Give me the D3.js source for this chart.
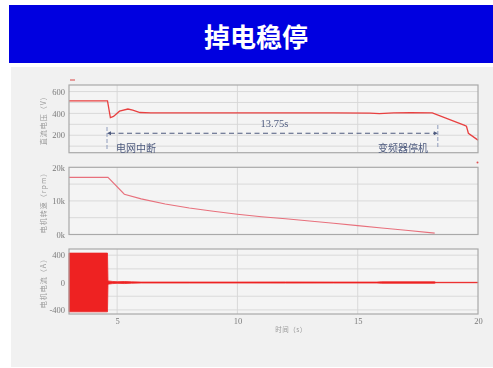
<!DOCTYPE html>
<html>
<head>
<meta charset="utf-8">
<script src="https://cdn.jsdelivr.net/npm/d3@7/dist/d3.min.js"></script>
<style>
  html, body { margin: 0; padding: 0; background: #ffffff; }
  svg { display: block; }
</style>
</head>
<body>
<svg id="chart" width="493" height="368"></svg>
<script>
// ---- data ----
const titleText = "掉电稳停";
const xTicks = [5, 10, 15, 20];

// DC bus voltage (V) vs time (s)
const voltTime  = [3, 4.6, 4.72, 4.85, 5.1, 5.45, 5.65, 5.95, 6.4, 8, 10, 12, 14, 15.5, 15.9, 16.5, 17.2, 18.1, 19.42, 19.52, 19.6, 20];
const voltValue = [515, 515, 362, 372, 420, 440, 430, 408, 405, 405, 404, 405, 404, 403, 398, 404, 406, 405, 292, 282, 218, 155];
const voltTicks = [600, 400, 200];

// motor speed (rpm) vs time (s)
const speedTime  = [3, 4.62, 5.3, 6, 7, 8, 9, 10, 11, 12, 13, 14, 15, 16, 17, 18.2];
const speedValue = [17000, 17000, 12000, 10600, 9100, 7900, 6900, 6050, 5300, 4700, 4000, 3350, 2650, 1950, 1250, 400];
const speedTicks = [20000, 10000, 0];
const speedTickLabels = ["20k", "10k", "0k"];

// motor current (A): envelope of the AC waveform, upper and lower bounds
const curTime  = [3, 4.6, 4.62, 4.8, 5.0, 5.3, 5.6, 6, 8, 10, 12, 14, 15.8, 16, 18.2, 18.25, 20];
const curUpper = [430, 430, 24, 16, 12, 15, 10, 7, 7, 7, 8, 7, 7, 11, 11, 3, 3];
const curLower = [-428, -428, -24, -16, -12, -15, -10, -7, -7, -7, -8, -7, -7, -11, -11, -3, -3];
const curTicks = [400, 0, -400];

// annotation: grid loss to drive stop
const gridLossTime = 4.58;
const stopDuration = 13.75;

// ---- drawing ----
const svg = d3.select("#chart");

// title banner
svg.append("rect").attr("x", 9).attr("y", 5).attr("width", 484).attr("height", 58).attr("fill", "#0000e0");
svg.append("text").attr("x", 256).attr("y", 35).attr("text-anchor", "middle").attr("dominant-baseline", "central")
  .attr("fill", "#ffffff").attr("font-family", "'Noto Sans CJK SC', sans-serif").attr("font-weight", "bold")
  .attr("font-size", 26).text(titleText);

// chart panel
const defs = svg.append("defs");
defs.append("filter").attr("id", "soft").append("feGaussianBlur").attr("stdDeviation", 0.35);
svg.append("rect").attr("x", 11).attr("y", 67).attr("width", 482).attr("height", 300).attr("fill", "#f1f1f1");

const g = svg.append("g").attr("filter", "url(#soft)");

const x = d3.scaleLinear().domain([3, 20]).range([69, 478]);
const y1 = d3.scaleLinear().domain([40, 660]).range([152.7, 85]);
const y2 = d3.scaleLinear().domain([0, 20000]).range([234.5, 167.3]);
const y3 = d3.scaleLinear().domain([-460, 490]).range([314, 249]);

const gridColor = "#d6d6d6";
const frameColor = "#a9a9a9";
const tickColor = "#7a7a7a";
const numFont = "'Liberation Serif', serif";
const cjkFont = "'Noto Sans CJK SC', sans-serif";

function panel(y, gridVals, tickVals, tickFmt, label) {
  const [y0, yTop] = y.range();
  const p = g.append("g");
  p.append("rect").attr("x", x(3)).attr("y", yTop).attr("width", x(20) - x(3)).attr("height", y0 - yTop)
    .attr("fill", "#f4f4f4");
  p.selectAll(".hg").data(gridVals).join("line")
    .attr("x1", x(3)).attr("x2", x(20)).attr("y1", d => y(d)).attr("y2", d => y(d))
    .attr("stroke", gridColor).attr("stroke-width", 0.9);
  p.selectAll(".vg").data([5, 10, 15]).join("line")
    .attr("x1", d => x(d)).attr("x2", d => x(d)).attr("y1", yTop).attr("y2", y0)
    .attr("stroke", gridColor).attr("stroke-width", 0.9);
  const ax = p.append("g").attr("transform", `translate(${x(3)},0)`)
    .call(d3.axisLeft(y).tickValues(tickVals).tickSize(0).tickPadding(4).tickFormat(tickFmt));
  ax.select(".domain").remove();
  ax.selectAll("text").attr("fill", tickColor).attr("font-family", numFont).attr("font-size", 8.5);
  p.append("text").attr("transform", `translate(43,${(y0 + yTop) / 2}) rotate(-90)`)
    .attr("text-anchor", "middle").attr("dominant-baseline", "central")
    .attr("fill", "#9a9a9a").attr("font-family", cjkFont).attr("font-size", 7).attr("letter-spacing", 1)
    .text(label);
  return p;
}

function frame(y) {
  const [y0, yTop] = y.range();
  g.append("rect").attr("x", x(3)).attr("y", yTop).attr("width", x(20) - x(3)).attr("height", y0 - yTop)
    .attr("fill", "none").attr("stroke", frameColor).attr("stroke-width", 1.2);
}

// panel 1: voltage
panel(y1, [100, 200, 300, 400, 500, 600], voltTicks, d => d, "直流电压（V）");
const voltData = voltTime.map((t, i) => [t, voltValue[i]]);
g.append("path").datum(voltData)
  .attr("d", d3.line().x(d => x(d[0])).y(d => y1(d[1])))
  .attr("fill", "none").attr("stroke", "#e84040").attr("stroke-width", 1.3);
frame(y1);
g.append("line").attr("x1", 70).attr("x2", 75).attr("y1", 80).attr("y2", 80)
  .attr("stroke", "#e06060").attr("stroke-width", 1.2);

// annotation
const annY = 133.3;
const xa = x(gridLossTime), xb = x(gridLossTime + stopDuration);
const annColor = "#4d5a7e";
g.append("line").attr("x1", xa).attr("x2", xa).attr("y1", 127).attr("y2", 150)
  .attr("stroke", "#8592b5").attr("stroke-width", 0.9).attr("stroke-dasharray", "4,2");
g.append("line").attr("x1", xb).attr("x2", xb).attr("y1", 125).attr("y2", 148)
  .attr("stroke", "#8592b5").attr("stroke-width", 0.9).attr("stroke-dasharray", "4,2");
g.append("line").attr("x1", xa + 3).attr("x2", xb - 3).attr("y1", annY).attr("y2", annY)
  .attr("stroke", annColor).attr("stroke-width", 1.1).attr("stroke-dasharray", "5,3.5");
g.append("path").attr("d", `M${xa},${annY}l4,-2v4z`).attr("fill", annColor);
g.append("path").attr("d", `M${xb},${annY}l-4,-2v4z`).attr("fill", annColor);
g.append("text").attr("x", (xa + xb) / 2 + 2).attr("y", 127).attr("text-anchor", "middle")
  .attr("fill", annColor).attr("font-family", numFont).attr("font-size", 10.5).text(stopDuration + "s");
g.append("text").attr("x", 116).attr("y", 152).attr("fill", annColor)
  .attr("font-family", cjkFont).attr("font-size", 10).text("电网中断");
g.append("text").attr("x", 428).attr("y", 152).attr("text-anchor", "end").attr("fill", annColor)
  .attr("font-family", cjkFont).attr("font-size", 10).text("变频器停机");

// panel 2: speed
panel(y2, [5000, 10000, 15000], speedTicks, (d, i) => speedTickLabels[i], "电机转速（rpm）");
const speedData = speedTime.map((t, i) => [t, speedValue[i]]);
g.append("path").datum(speedData)
  .attr("d", d3.line().x(d => x(d[0])).y(d => y2(d[1])))
  .attr("fill", "none").attr("stroke", "#e8707c").attr("stroke-width", 1.1);
frame(y2);
g.append("circle").attr("cx", 477.5).attr("cy", 162.5).attr("r", 1).attr("fill", "#e05050");

// panel 3: current
panel(y3, [-400, -200, 0, 200, 400], curTicks, d => d, "电机电流（A）");
const curData = curTime.map((t, i) => [t, curUpper[i], curLower[i]]);
g.append("path").datum(curData)
  .attr("d", d3.area().x(d => x(d[0])).y0(d => y3(d[2])).y1(d => y3(d[1])))
  .attr("fill", "#ee2424").attr("stroke", "#ee2424").attr("stroke-width", 0.8);
frame(y3);

const xAxis = g.append("g").attr("transform", `translate(0,${y3.range()[0]})`)
  .call(d3.axisBottom(x).tickValues(xTicks).tickSize(0).tickPadding(4));
xAxis.select(".domain").remove();
xAxis.selectAll("text").attr("fill", tickColor).attr("font-family", numFont).attr("font-size", 8.5);
g.append("text").attr("x", 291).attr("y", 332).attr("text-anchor", "middle")
  .attr("fill", "#9a9a9a").attr("font-family", cjkFont).attr("font-size", 6.5).attr("letter-spacing", 0.5)
  .text("时间（s）");
</script>
</body>
</html>
